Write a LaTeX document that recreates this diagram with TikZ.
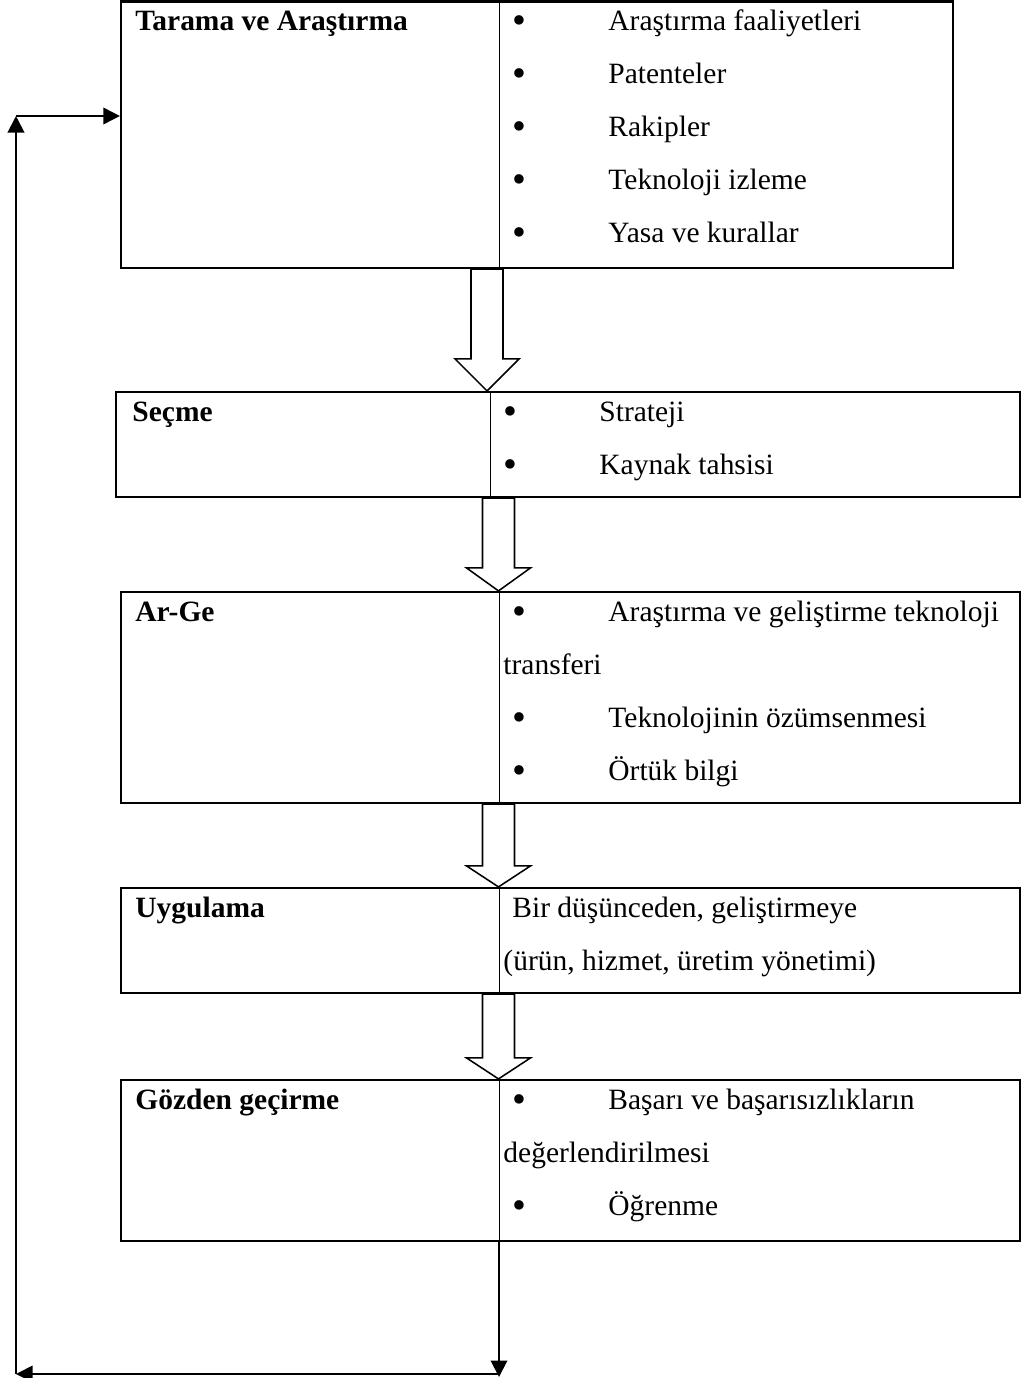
\documentclass[tikz,border=0pt]{standalone}
\usepackage{fontspec}
\setmainfont{Liberation Serif}
\usetikzlibrary{arrows.meta, calc, fit}
\tikzset{
  kutu/.style={rectangle, draw=black, line width=1pt, inner sep=0pt},
  ara/.style={draw=black, line width=0.45pt},
  baslik/.style={anchor=base west, inner sep=0pt, font=\fontsize{13.4}{16}\selectfont\bfseries},
  metin/.style={anchor=base west, inner sep=0pt, font=\fontsize{13.4}{16}\selectfont},
  bosok/.style={draw=black, fill=white, line width=0.7pt, line join=miter},
  geri/.style={draw=black, line width=0.9pt, -{Triangle[length=7.5pt, width=7.5pt]}}
}
\newcommand{\madde}{\makebox[43.4pt][l]{\raisebox{-1.6pt}{\fontsize{18}{18}\selectfont\textbullet}}}

\begin{document}
\begin{tikzpicture}[x=0.4545pt, y=-0.4545pt]
  \useasboundingbox (0,0) rectangle (1029,1378);
  % kutular
  \node (tarama) [kutu, fit={(121,1.5) (953,268)}] {};
  \node (secme) [kutu, fit={(116,392) (1020,497)}] {};
  \node (arge) [kutu, fit={(121,592) (1020,803)}] {};
  \node (uygulama) [kutu, fit={(121,888) (1020,993)}] {};
  \node (gozden) [kutu, fit={(121,1080) (1020,1241)}] {};
  \draw [ara] (499,1.5) -- (499,268);
  \draw [ara] (490,392) -- (490,497);
  \draw [ara] (499,592) -- (499,803);
  \draw [ara] (499,888) -- (499,993);
  \draw [ara] (499,1080) -- (499,1241);
  % metinler
  \node (t0) [baslik] at (135,30) {Tarama ve Araştırma};
  \node (t1) [metin] at (512.5,30) {\madde Araştırma faaliyetleri};
  \node (t2) [metin] at (512.5,83) {\madde Patenteler};
  \node (t3) [metin] at (512.5,136) {\madde Rakipler};
  \node (t4) [metin] at (512.5,189) {\madde Teknoloji izleme};
  \node (t5) [metin] at (512.5,242) {\madde Yasa ve kurallar};
  \node (s0) [baslik] at (132,421) {Seçme};
  \node (s1) [metin] at (503.5,421) {\madde Strateji};
  \node (s2) [metin] at (503.5,474) {\madde Kaynak tahsisi};
  \node (a0) [baslik] at (135,621) {Ar-Ge};
  \node (a1) [metin] at (512.5,621) {\madde Araştırma ve geliştirme teknoloji};
  \node (a2) [metin] at (503,674) {transferi};
  \node (a3) [metin] at (512.5,727) {\madde Teknolojinin özümsenmesi};
  \node (a4) [metin] at (512.5,780) {\madde Örtük bilgi};
  \node (u0) [baslik] at (135,917) {Uygulama};
  \node (u1) [metin] at (512,917) {Bir düşünceden, geliştirmeye};
  \node (u2) [metin] at (503,970) {(ürün, hizmet, üretim yönetimi)};
  \node (g0t) [baslik] at (135,1109) {Gözden geçirme};
  \node (g1t) [metin] at (512.5,1109) {\madde Başarı ve başarısızlıkların};
  \node (g2t) [metin] at (503,1162) {değerlendirilmesi};
  \node (g3t) [metin] at (512.5,1215) {\madde Öğrenme};
  % bos oklar
  \coordinate (e1) at (487,0);
  \coordinate (e2) at (498.5,0);
  \coordinate (e3) at (498.5,0);
  \coordinate (e4) at (498.5,0);
  \foreach \ust/\alt/\ek/\bas in {tarama/secme/e1/32, secme/arge/e2/23, arge/uygulama/e3/21, uygulama/gozden/e4/21}
    \draw [bosok] ($(\ek |- \ust.south)+(-16,0)$) -- ($(\ek |- \alt.north)+(-16,-\bas)$)
      -- ($(\ek |- \alt.north)+(-32,-\bas)$) -- (\ek |- \alt.north)
      -- ($(\ek |- \alt.north)+(32,-\bas)$) -- ($(\ek |- \alt.north)+(16,-\bas)$)
      -- ($(\ek |- \ust.south)+(16,0)$) -- cycle;
  % geri besleme
  \coordinate (g0) at (499,1241);
  \coordinate (g1) at (499,1377);
  \coordinate (g2) at (16,1374);
  \coordinate (g3) at (16,116);
  \draw [geri] (g0) -- (g1);
  \draw [geri] (g1 |- g2) -- (g2);
  \draw [geri] (g2) -- (g3);
  \draw [geri] (g3) -- (g3 -| tarama.west);
\end{tikzpicture}
\end{document}
